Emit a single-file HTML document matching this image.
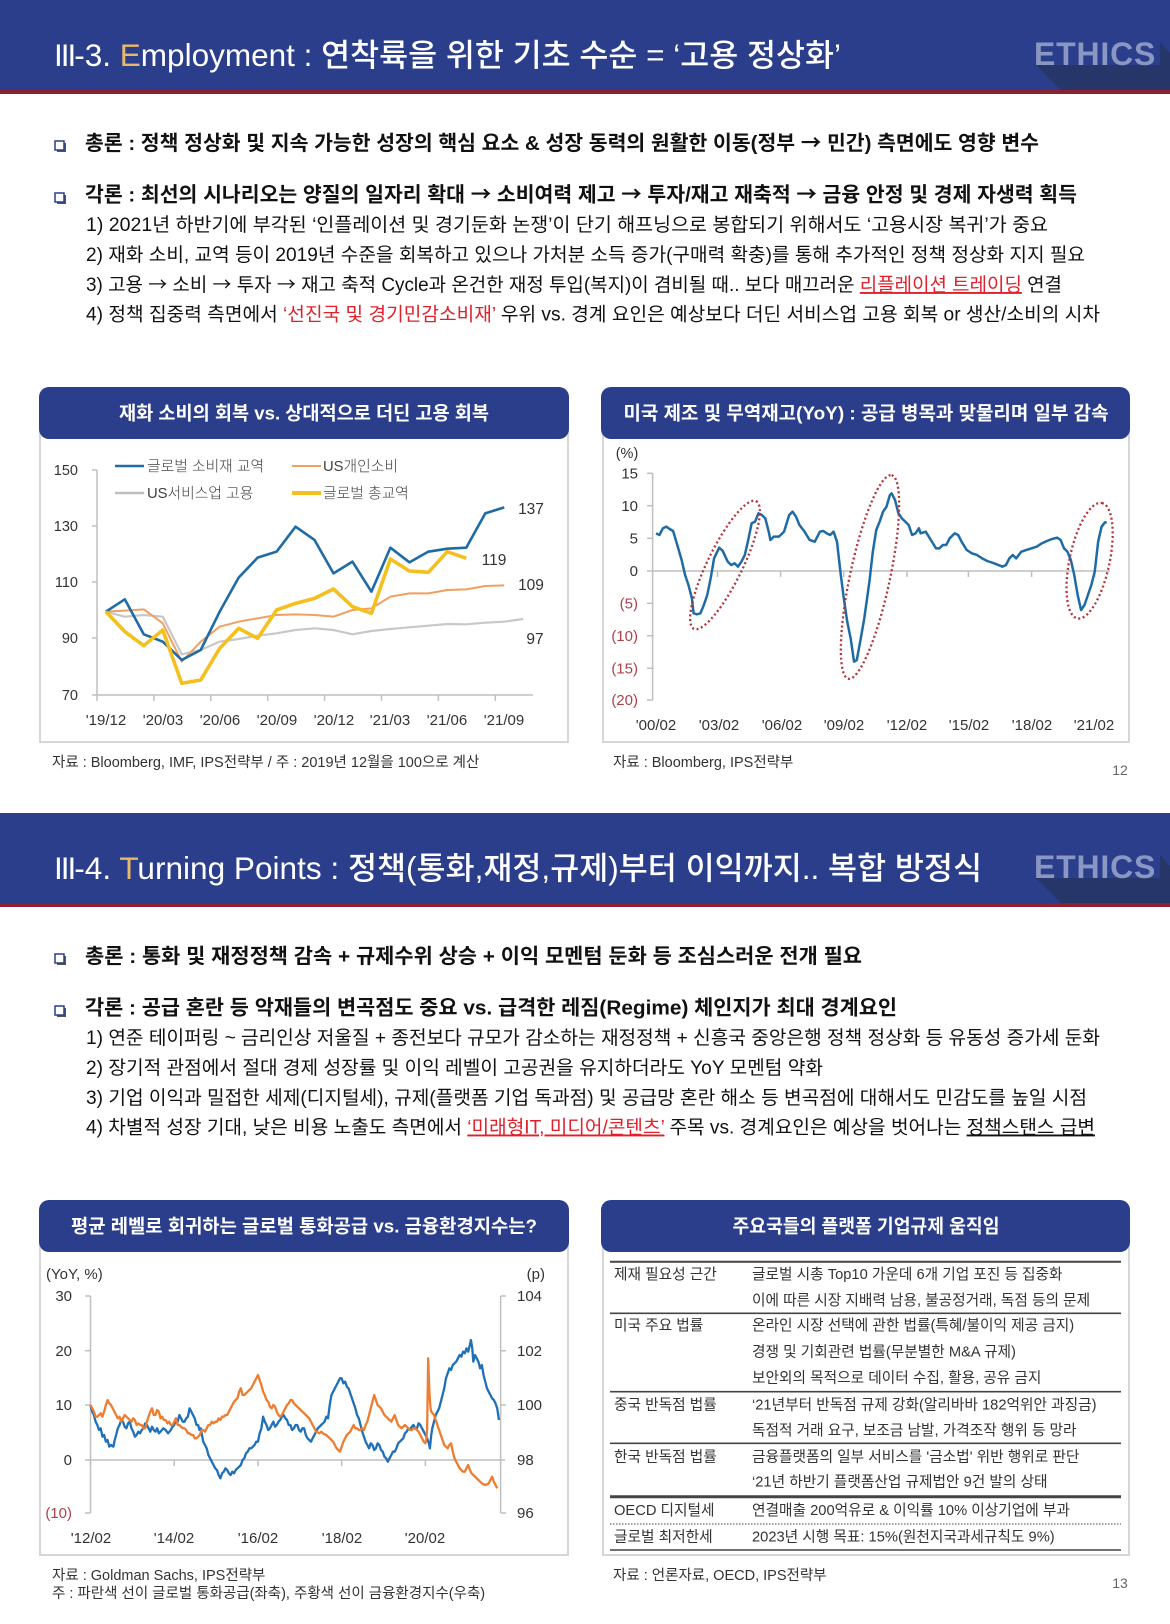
<!DOCTYPE html>
<html><head><meta charset="utf-8"><style>
html,body{margin:0;padding:0;background:#fff;}
svg{display:block;font-family:"Liberation Sans","Noto Sans CJK KR",sans-serif;}
.ar{font-family:"Noto Sans CJK KR","DejaVu Sans",sans-serif;}
</style></head><body>
<svg width="1170" height="1624" viewBox="0 0 1170 1624" xmlns="http://www.w3.org/2000/svg">
<rect width="1170" height="1624" fill="#fff"/>

<!-- ===== SLIDE 1 HEADER ===== -->
<rect x="0" y="0" width="1170" height="90" fill="#2B3E8B"/>
<rect x="0" y="90" width="1170" height="4" fill="#8C2231"/>
<polygon points="1036,65 1061,90 1170,90 1170,53 1160,42 1160,65" fill="#263669"/>
<text x="1034" y="65" font-size="32" font-weight="700" fill="#8A97C3" font-family="Liberation Sans" letter-spacing="0.8">ETHICS</text>
<text x="54" y="66" font-size="31.5" font-weight="500" fill="#fff" textLength="787" lengthAdjust="spacingAndGlyphs"><tspan letter-spacing="-2">III</tspan>-3. <tspan fill="#E8B96A">E</tspan>mployment : 연착륙을 위한 기초 수순 = ‘고용 정상화’</text>

<rect x="57" y="143" width="9" height="9" fill="#555"/><rect x="55" y="141" width="9" height="9" fill="#fff" stroke="#2B3E8B" stroke-width="1.5"/>
<rect x="57" y="195" width="9" height="9" fill="#555"/><rect x="55" y="193" width="9" height="9" fill="#fff" stroke="#2B3E8B" stroke-width="1.5"/>
<g fill="#111">
<text x="85" y="150" font-size="20.5" font-weight="700" textLength="954" lengthAdjust="spacingAndGlyphs">총론 : 정책 정상화 및 지속 가능한 성장의 핵심 요소 &amp; 성장 동력의 원활한 이동(정부 <tspan class="ar">→</tspan> 민간) 측면에도 영향 변수</text>
<text x="85" y="201.5" font-size="20.5" font-weight="700" textLength="992" lengthAdjust="spacingAndGlyphs">각론 : 최선의 시나리오는 양질의 일자리 확대 <tspan class="ar">→</tspan> 소비여력 제고 <tspan class="ar">→</tspan> 투자/재고 재축적 <tspan class="ar">→</tspan> 금융 안정 및 경제 자생력 획득</text>
<text x="86" y="231" font-size="19" textLength="962" lengthAdjust="spacingAndGlyphs">1) 2021년 하반기에 부각된 ‘인플레이션 및 경기둔화 논쟁’이 단기 해프닝으로 봉합되기 위해서도 ‘고용시장 복귀’가 중요</text>
<text x="86" y="261" font-size="19" textLength="999" lengthAdjust="spacingAndGlyphs">2) 재화 소비, 교역 등이 2019년 수준을 회복하고 있으나 가처분 소득 증가(구매력 확충)를 통해 추가적인 정책 정상화 지지 필요</text>
<text x="86" y="291" font-size="19" textLength="976" lengthAdjust="spacingAndGlyphs">3) 고용 <tspan class="ar">→</tspan> 소비 <tspan class="ar">→</tspan> 투자 <tspan class="ar">→</tspan> 재고 축적 Cycle과 온건한 재정 투입(복지)이 겸비될 때.. 보다 매끄러운 <tspan fill="#E0202A" style="text-decoration:underline">리플레이션 트레이딩</tspan> 연결</text>
<text x="86" y="320.5" font-size="19" textLength="1014" lengthAdjust="spacingAndGlyphs">4) 정책 집중력 측면에서 <tspan fill="#E0202A">‘선진국 및 경기민감소비재’</tspan> 우위 vs. 경계 요인은 예상보다 더딘 서비스업 고용 회복 or 생산/소비의 시차</text>
</g>

<!-- ===== CHART 1 ===== -->
<rect x="40" y="400" width="528" height="342" fill="#fff" stroke="#D6D6D6" stroke-width="2"/>
<rect x="39" y="387" width="530" height="52" rx="10" fill="#2B3E8B"/>
<text x="304" y="419.5" font-size="18.8" font-weight="700" fill="#fff" text-anchor="middle" textLength="370" lengthAdjust="spacingAndGlyphs">재화 소비의 회복 vs. 상대적으로 더딘 고용 회복</text>
<g stroke="#BFBFBF" stroke-width="1.5" fill="none">
<line x1="97" y1="470" x2="97" y2="695"/>
<line x1="97" y1="695" x2="533" y2="695"/>
<line x1="92" y1="470" x2="97" y2="470"/><line x1="92" y1="526" x2="97" y2="526"/><line x1="92" y1="582" x2="97" y2="582"/><line x1="92" y1="638" x2="97" y2="638"/><line x1="92" y1="695" x2="97" y2="695"/>
<line x1="97" y1="695" x2="97" y2="701"/><line x1="153.9" y1="695" x2="153.9" y2="701"/><line x1="210.8" y1="695" x2="210.8" y2="701"/><line x1="267.7" y1="695" x2="267.7" y2="701"/><line x1="324.6" y1="695" x2="324.6" y2="701"/><line x1="381.5" y1="695" x2="381.5" y2="701"/><line x1="438.4" y1="695" x2="438.4" y2="701"/><line x1="495.3" y1="695" x2="495.3" y2="701"/>
</g>
<g font-size="14.5" fill="#333" text-anchor="end">
<text x="78" y="475">150</text><text x="78" y="531">130</text><text x="78" y="587">110</text><text x="78" y="643">90</text><text x="78" y="700">70</text>
</g>
<g font-size="15" fill="#333" text-anchor="middle">
<text x="106" y="725">'19/12</text><text x="163" y="725">'20/03</text><text x="220" y="725">'20/06</text><text x="277" y="725">'20/09</text><text x="334" y="725">'20/12</text><text x="390" y="725">'21/03</text><text x="447" y="725">'21/06</text><text x="504" y="725">'21/09</text>
</g>
<line x1="115" y1="466" x2="144" y2="466" stroke="#1F6BA5" stroke-width="2.5"/>
<line x1="292" y1="466" x2="321" y2="466" stroke="#F0A060" stroke-width="2"/>
<line x1="115" y1="493" x2="144" y2="493" stroke="#BFBFBF" stroke-width="2.5"/>
<line x1="292" y1="493" x2="321" y2="493" stroke="#F5C01E" stroke-width="4"/>
<g font-size="14.8" fill="#404040" font-weight="300">
<text x="147" y="471">글로벌 소비재 교역</text><text x="323" y="471">US개인소비</text>
<text x="147" y="498">US서비스업 고용</text><text x="323" y="498">글로벌 총교역</text>
</g>
<g transform="matrix(0.3418,0,0,0.33333,37.5,385)" fill="none" stroke-linejoin="round">
<polyline vector-effect="non-scaling-stroke" stroke="#C8C8C8" stroke-width="2.2" points="200,680 255.5,695 311,690 366.5,695 422,808 477.5,795 533,770 588.5,762 644,752 699.5,745 755,735 810.5,730 866,735 921.5,748 977,738 1032.5,732 1088,727 1143.5,722 1199,717 1254.5,718 1310,713 1365.5,710 1421,702"/>
<polyline vector-effect="non-scaling-stroke" stroke="#F0A060" stroke-width="2" points="200,680 255.5,677 311,673 366.5,715 422,830 477.5,770 533,725 588.5,710 644,700 699.5,690 755,688 810.5,690 866,695 921.5,675 977,670 1032.5,635 1088,625 1143.5,625 1199,615 1254.5,613 1310,603 1365.5,601"/>
<polyline vector-effect="non-scaling-stroke" stroke="#1F6BA5" stroke-width="2.6" points="200,680 255.5,643 311,748 366.5,770 422,825 477.5,795 533,680 588.5,578 644,518 699.5,500 755,425 810.5,465 866,565 921.5,530 977,620 1032.5,488 1088,532 1143.5,500 1199,491 1254.5,488 1310,385 1365.5,367"/>
<polyline vector-effect="non-scaling-stroke" stroke="#F5C01E" stroke-width="3.6" points="200,680 255.5,740 311,782 366.5,735 422,895 477.5,885 533,790 588.5,730 644,760 699.5,675 755,655 810.5,640 866,612 921.5,665 977,685 1032.5,522 1088,558 1143.5,562 1199,500 1254.5,520"/>
</g>
<g font-size="15.5" fill="#333" text-anchor="middle">
<text x="531" y="514">137</text><text x="494" y="565">119</text><text x="531" y="590">109</text><text x="535" y="644">97</text>
</g>
<text x="52" y="767" font-size="14.5" fill="#333">자료 : Bloomberg, IMF, IPS전략부 / 주 : 2019년 12월을 100으로 계산</text>

<!-- ===== CHART 2 ===== -->
<rect x="603" y="400" width="526" height="342" fill="#fff" stroke="#D6D6D6" stroke-width="2"/>
<rect x="601" y="387" width="529" height="52" rx="10" fill="#2B3E8B"/>
<text x="866" y="419.5" font-size="18.8" font-weight="700" fill="#fff" text-anchor="middle" textLength="485" lengthAdjust="spacingAndGlyphs">미국 제조 및 무역재고(YoY) : 공급 병목과 맞물리며 일부 감속</text>
<text x="627" y="458" font-size="14.5" fill="#333" text-anchor="middle">(%)</text>
<g stroke="#BFBFBF" stroke-width="1.5" fill="none">
<line x1="652.6" y1="473" x2="652.6" y2="700"/>
<line x1="652.6" y1="571" x2="1110" y2="571"/>
<line x1="647" y1="473.3" x2="652.6" y2="473.3"/><line x1="647" y1="505.7" x2="652.6" y2="505.7"/><line x1="647" y1="538.3" x2="652.6" y2="538.3"/><line x1="647" y1="571" x2="652.6" y2="571"/><line x1="647" y1="603.3" x2="652.6" y2="603.3"/><line x1="647" y1="635.7" x2="652.6" y2="635.7"/><line x1="647" y1="668.3" x2="652.6" y2="668.3"/><line x1="647" y1="700" x2="652.6" y2="700"/>
<line x1="717.5" y1="571" x2="717.5" y2="577"/><line x1="780.6" y1="571" x2="780.6" y2="577"/><line x1="843.8" y1="571" x2="843.8" y2="577"/><line x1="907" y1="571" x2="907" y2="577"/><line x1="968.4" y1="571" x2="968.4" y2="577"/><line x1="1031.6" y1="571" x2="1031.6" y2="577"/><line x1="1094.7" y1="571" x2="1094.7" y2="577"/>
</g>
<g font-size="15" text-anchor="end">
<text x="638" y="478.5" fill="#333">15</text><text x="638" y="511" fill="#333">10</text><text x="638" y="543.5" fill="#333">5</text><text x="638" y="576" fill="#333">0</text>
<text x="638" y="608.5" fill="#B0404A">(5)</text><text x="638" y="641" fill="#B0404A">(10)</text><text x="638" y="673.5" fill="#B0404A">(15)</text><text x="638" y="705" fill="#B0404A">(20)</text>
</g>
<g font-size="15" fill="#333" text-anchor="middle">
<text x="656" y="730">'00/02</text><text x="719" y="730">'03/02</text><text x="782" y="730">'06/02</text><text x="844" y="730">'09/02</text><text x="907" y="730">'12/02</text><text x="969" y="730">'15/02</text><text x="1032" y="730">'18/02</text><text x="1094" y="730">'21/02</text>
</g>
<g transform="matrix(0.3414,0,0,0.33333,598,385)" fill="none">
<polyline vector-effect="non-scaling-stroke" stroke="#1F6BA5" stroke-width="2.5" stroke-linejoin="round" points="170,445 180,450 190,430 200,425 210,432 220,438 225,455 235,490 245,525 255,570 265,600 275,640 280,685 290,688 300,685 310,660 320,630 330,580 340,520 355,488 365,497 380,530 390,540 400,535 410,545 420,530 430,510 440,465 450,415 460,410 470,385 480,390 490,400 500,440 505,465 515,455 530,455 545,440 560,390 570,380 580,395 590,420 605,440 620,465 635,470 650,440 660,438 670,445 680,450 690,440 700,470 710,560 720,640 730,710 740,760 750,830 758,825 768,770 780,700 795,590 805,500 815,435 825,410 835,380 845,365 855,330 860,325 870,345 880,385 890,400 900,410 910,420 920,450 930,445 940,430 945,445 960,440 975,465 990,490 1000,490 1010,480 1020,480 1030,460 1045,445 1055,450 1065,470 1080,495 1095,505 1110,510 1125,520 1140,528 1160,535 1185,545 1195,540 1205,520 1215,510 1225,520 1240,500 1255,495 1270,490 1285,485 1300,475 1315,468 1330,462 1345,458 1355,465 1365,490 1375,500 1385,525 1395,570 1405,630 1415,675 1425,660 1435,630 1445,600 1455,560 1465,470 1475,425 1485,412 1490,412"/>
</g>
<g fill="none" stroke="#B5323A" stroke-width="2.3" stroke-dasharray="2 2.6">
<ellipse cx="725" cy="565" rx="71" ry="17.5" transform="rotate(-64 725 565)"/>
<ellipse cx="870" cy="577" rx="104" ry="20" transform="rotate(-78 870 577)"/>
<ellipse cx="1089.6" cy="560.7" rx="59" ry="20" transform="rotate(-78 1089.6 560.7)"/>
</g>
<text x="613" y="767" font-size="14.5" fill="#333">자료 : Bloomberg, IPS전략부</text>
<text x="1120" y="775" font-size="14" fill="#666" text-anchor="middle">12</text>

<!-- ===== SLIDE 2 HEADER ===== -->
<rect x="0" y="813" width="1170" height="90" fill="#2B3E8B"/>
<rect x="0" y="903" width="1170" height="4" fill="#8C2231"/>
<polygon points="1036,878 1061,903 1170,903 1170,866 1160,855 1160,878" fill="#263669"/>
<text x="1034" y="878" font-size="32" font-weight="700" fill="#8A97C3" font-family="Liberation Sans" letter-spacing="0.8">ETHICS</text>
<text x="54" y="879" font-size="31.5" font-weight="500" fill="#fff" textLength="928" lengthAdjust="spacingAndGlyphs"><tspan letter-spacing="-2">III</tspan>-4. <tspan fill="#E8B96A">T</tspan>urning Points : 정책(통화,재정,규제)부터 이익까지.. 복합 방정식</text>

<rect x="57" y="956" width="9" height="9" fill="#555"/><rect x="55" y="954" width="9" height="9" fill="#fff" stroke="#2B3E8B" stroke-width="1.5"/>
<rect x="57" y="1008" width="9" height="9" fill="#555"/><rect x="55" y="1006" width="9" height="9" fill="#fff" stroke="#2B3E8B" stroke-width="1.5"/>
<g fill="#111">
<text x="85" y="963" font-size="20.5" font-weight="700" textLength="777" lengthAdjust="spacingAndGlyphs">총론 : 통화 및 재정정책 감속 + 규제수위 상승 + 이익 모멘텀 둔화 등 조심스러운 전개 필요</text>
<text x="85" y="1014.5" font-size="20.5" font-weight="700" textLength="812" lengthAdjust="spacingAndGlyphs">각론 : 공급 혼란 등 악재들의 변곡점도 중요 vs. 급격한 레짐(Regime) 체인지가 최대 경계요인</text>
<text x="86" y="1044" font-size="19" textLength="1014" lengthAdjust="spacingAndGlyphs">1) 연준 테이퍼링 ~ 금리인상 저울질 + 종전보다 규모가 감소하는 재정정책 + 신흥국 중앙은행 정책 정상화 등 유동성 증가세 둔화</text>
<text x="86" y="1074" font-size="19" textLength="737" lengthAdjust="spacingAndGlyphs">2) 장기적 관점에서 절대 경제 성장률 및 이익 레벨이 고공권을 유지하더라도 YoY 모멘텀 약화</text>
<text x="86" y="1104" font-size="19" textLength="1001" lengthAdjust="spacingAndGlyphs">3) 기업 이익과 밀접한 세제(디지털세), 규제(플랫폼 기업 독과점) 및 공급망 혼란 해소 등 변곡점에 대해서도 민감도를 높일 시점</text>
<text x="86" y="1133.5" font-size="19" textLength="1009" lengthAdjust="spacingAndGlyphs">4) 차별적 성장 기대, 낮은 비용 노출도 측면에서 <tspan fill="#E0202A" style="text-decoration:underline">‘미래형IT, 미디어/콘텐츠’</tspan> 주목 vs. 경계요인은 예상을 벗어나는 <tspan style="text-decoration:underline">정책스탠스 급변</tspan></text>
</g>

<!-- ===== CHART 3 ===== -->
<rect x="40" y="1213" width="528" height="342" fill="#fff" stroke="#D6D6D6" stroke-width="2"/>
<rect x="39" y="1200" width="530" height="52" rx="10" fill="#2B3E8B"/>
<text x="304" y="1232.5" font-size="18.8" font-weight="700" fill="#fff" text-anchor="middle" textLength="466" lengthAdjust="spacingAndGlyphs">평균 레벨로 회귀하는 글로벌 통화공급 vs. 금융환경지수는?</text>
<text x="46" y="1279" font-size="15" fill="#333">(YoY, %)</text>
<text x="545" y="1279" font-size="15" fill="#333" text-anchor="end">(p)</text>
<g stroke="#BFBFBF" stroke-width="1.5" fill="none">
<line x1="90.5" y1="1296" x2="90.5" y2="1513"/>
<line x1="500.6" y1="1296" x2="500.6" y2="1513"/>
<line x1="85" y1="1460" x2="505" y2="1460"/>
<line x1="85" y1="1296" x2="90.5" y2="1296"/><line x1="85" y1="1350.7" x2="90.5" y2="1350.7"/><line x1="85" y1="1405" x2="90.5" y2="1405"/><line x1="85" y1="1513" x2="90.5" y2="1513"/>
<line x1="500.6" y1="1296" x2="506" y2="1296"/><line x1="500.6" y1="1350.7" x2="506" y2="1350.7"/><line x1="500.6" y1="1405" x2="506" y2="1405"/><line x1="500.6" y1="1513" x2="506" y2="1513"/>
<line x1="90.5" y1="1460" x2="90.5" y2="1466"/><line x1="174.2" y1="1460" x2="174.2" y2="1466"/><line x1="258" y1="1460" x2="258" y2="1466"/><line x1="341.7" y1="1460" x2="341.7" y2="1466"/><line x1="425.4" y1="1460" x2="425.4" y2="1466"/>
</g>
<g font-size="15" text-anchor="end">
<text x="72" y="1301" fill="#333">30</text><text x="72" y="1356" fill="#333">20</text><text x="72" y="1410" fill="#333">10</text><text x="72" y="1465" fill="#333">0</text><text x="72" y="1518" fill="#B0404A">(10)</text>
</g>
<g font-size="15" fill="#333">
<text x="517" y="1301">104</text><text x="517" y="1356">102</text><text x="517" y="1410">100</text><text x="517" y="1465">98</text><text x="517" y="1518">96</text>
</g>
<g font-size="15" fill="#333" text-anchor="middle">
<text x="91" y="1543">'12/02</text><text x="174" y="1543">'14/02</text><text x="258" y="1543">'16/02</text><text x="342" y="1543">'18/02</text><text x="425" y="1543">'20/02</text>
</g>
<g transform="matrix(0.3418,0,0,0.33333,37.5,1195)" fill="none" stroke-linejoin="round">
<polyline vector-effect="non-scaling-stroke" stroke="#1F70B8" stroke-width="2.3" points="155,630 160,650 165,660 170,680 175,690 180,705 185,700 190,725 195,720 200,740 205,735 210,755 215,750 222,755 226,735 230,720 235,700 240,690 245,675 250,680 255,695 260,700 265,685 270,680 275,700 280,710 285,725 290,720 295,710 300,715 305,705 310,700 315,685 320,690 325,700 330,710 335,695 340,705 345,710 350,700 355,715 360,710 368,700 375,705 382,715 390,705 395,695 400,690 405,675 410,680 415,660 420,670 425,680 430,680 435,670 440,665 445,640 450,650 455,660 460,670 465,690 470,690 474,705 478,700 482,725 485,740 490,750 495,760 500,780 505,790 510,800 515,810 520,820 525,825 530,840 535,850 540,835 545,830 550,820 555,825 560,835 565,840 570,830 575,835 580,825 585,820 590,815 595,810 600,795 605,790 610,775 615,770 620,760 625,760 630,755 635,750 640,740 645,740 650,715 655,700 660,665 665,680 670,690 675,705 680,700 685,690 690,680 695,695 700,690 705,680 710,675 715,665 720,660 725,670 730,675 735,690 740,690 745,705 750,700 755,690 760,690 765,705 770,710 775,700 780,700 785,720 790,730 795,735 800,740 805,730 810,720 815,710 820,700 825,695 830,690 835,685 840,680 845,665 850,670 855,630 860,600 865,590 870,580 875,570 880,560 885,550 890,550 895,565 900,560 905,575 910,580 915,595 920,610 925,625 930,640 935,660 940,670 945,690 950,710 955,725 960,740 965,750 970,760 975,745 980,750 985,765 990,760 995,745 1000,750 1005,765 1010,770 1015,785 1020,790 1025,800 1030,790 1035,780 1040,770 1045,770 1050,760 1055,745 1060,740 1065,735 1070,730 1075,715 1080,710 1085,700 1090,705 1095,695 1100,690 1105,700 1110,700 1115,685 1120,690 1125,700 1130,710 1135,720 1140,730 1145,745 1148,760 1152,720 1155,700 1160,680 1165,660 1170,650 1175,640 1180,620 1185,600 1190,580 1195,550 1200,535 1205,520 1210,525 1215,510 1220,505 1225,500 1230,490 1235,480 1240,485 1245,470 1250,475 1255,460 1260,470 1265,450 1268,435 1272,460 1275,500 1280,480 1285,490 1290,500 1295,520 1300,510 1305,540 1310,560 1315,580 1320,590 1325,600 1330,610 1335,615 1340,625 1345,640 1350,675"/>
<polyline vector-effect="non-scaling-stroke" stroke="#ED7D31" stroke-width="2.3" points="155,630 160,640 165,650 170,665 175,665 180,660 185,655 190,665 195,650 200,630 205,615 210,625 215,630 220,640 225,650 230,660 235,670 240,665 245,680 250,670 255,660 260,665 265,670 270,675 275,680 280,670 285,675 290,690 295,685 300,690 305,690 310,700 315,700 320,680 325,665 330,650 335,640 340,660 345,660 350,645 355,650 360,670 365,665 370,675 375,675 380,685 385,680 390,690 395,690 400,680 405,670 410,690 415,690 420,695 425,700 430,700 435,705 440,715 445,715 450,720 455,720 460,730 465,730 470,725 475,720 480,705 485,705 490,710 495,700 500,690 505,690 510,680 515,685 520,680 525,680 530,670 535,675 540,665 545,665 550,660 555,660 560,650 565,640 570,630 575,620 580,615 585,610 590,590 595,580 600,600 605,600 610,595 615,590 620,585 625,580 630,570 635,560 640,550 645,540 650,555 655,570 660,590 665,600 670,615 675,620 680,635 685,640 690,630 695,635 700,650 705,660 710,665 715,660 720,650 725,640 730,630 735,625 740,615 745,615 750,625 755,630 760,635 765,640 770,645 775,650 780,655 785,660 790,665 795,670 800,680 805,690 810,700 815,710 820,712 825,715 830,710 835,715 840,718 845,720 850,725 855,730 860,735 865,740 870,750 875,760 880,765 885,770 890,755 895,740 900,730 905,720 910,715 915,710 920,700 925,690 930,700 935,700 940,705 945,705 950,700 955,705 960,690 965,680 970,660 975,640 980,620 985,600 990,615 995,630 1000,635 1005,640 1010,650 1015,660 1020,665 1025,670 1030,675 1035,680 1040,670 1045,660 1050,675 1055,690 1060,695 1065,700 1070,695 1075,690 1080,695 1085,700 1090,705 1095,705 1100,700 1105,700 1110,705 1115,710 1120,720 1125,730 1130,740 1135,745 1138,730 1140,700 1142,560 1143,490 1145,550 1147,600 1150,640 1152,650 1156,655 1160,660 1165,675 1170,690 1175,705 1180,720 1185,735 1190,750 1195,755 1200,760 1205,750 1210,745 1215,770 1220,790 1225,800 1230,810 1235,820 1240,825 1245,830 1250,830 1255,820 1260,810 1265,825 1270,835 1275,840 1280,845 1285,850 1290,855 1295,860 1300,865 1305,868 1310,870 1315,868 1320,865 1325,855 1330,845 1335,860 1340,870 1345,880"/>
</g>
<text x="52" y="1580" font-size="14.5" fill="#333">자료 : Goldman Sachs, IPS전략부</text>
<text x="52" y="1598" font-size="14.5" fill="#333">주 : 파란색 선이 글로벌 통화공급(좌축), 주황색 선이 금융환경지수(우축)</text>

<!-- ===== TABLE ===== -->
<rect x="603" y="1213" width="526" height="342" fill="#fff" stroke="#D6D6D6" stroke-width="2"/>
<rect x="601" y="1200" width="529" height="52" rx="10" fill="#2B3E8B"/>
<text x="866" y="1232.5" font-size="18.8" font-weight="700" fill="#fff" text-anchor="middle" textLength="267" lengthAdjust="spacingAndGlyphs">주요국들의 플랫폼 기업규제 움직임</text>
<g stroke="#444" fill="none">
<line x1="610" y1="1261.7" x2="1121" y2="1261.7" stroke-width="2"/>
<line x1="610" y1="1313.3" x2="1121" y2="1313.3" stroke-width="1.6"/>
<line x1="610" y1="1391.7" x2="1121" y2="1391.7" stroke-width="1.6"/>
<line x1="610" y1="1443.3" x2="1121" y2="1443.3" stroke-width="1.6"/>
<line x1="610" y1="1496.7" x2="1121" y2="1496.7" stroke-width="3"/>
<line x1="610" y1="1524" x2="1121" y2="1524" stroke-width="1" stroke-dasharray="1.5 1.5"/>
<line x1="610" y1="1550" x2="1121" y2="1550" stroke-width="1.6"/>
</g>
<g font-size="14.7" fill="#333">
<text x="614" y="1279">제재 필요성 근간</text>
<text x="752" y="1279">글로벌 시총 Top10 가운데 6개 기업 포진 등 집중화</text>
<text x="752" y="1305">이에 따른 시장 지배력 남용, 불공정거래, 독점 등의 문제</text>
<text x="614" y="1330">미국 주요 법률</text>
<text x="752" y="1330">온라인 시장 선택에 관한 법률(특혜/불이익 제공 금지)</text>
<text x="752" y="1356.7">경쟁 및 기회관련 법률(무분별한 M&amp;A 규제)</text>
<text x="752" y="1382.7">보안외의 목적으로 데이터 수집, 활용, 공유 금지</text>
<text x="614" y="1409.3">중국 반독점 법률</text>
<text x="752" y="1409.3">‘21년부터 반독점 규제 강화(알리바바 182억위안 과징금)</text>
<text x="752" y="1435">독점적 거래 요구, 보조금 남발, 가격조작 행위 등 망라</text>
<text x="614" y="1461.7">한국 반독점 법률</text>
<text x="752" y="1461.7">금융플랫폼의 일부 서비스를 '금소법' 위반 행위로 판단</text>
<text x="752" y="1486.7">‘21년 하반기 플랫폼산업 규제법안 9건 발의 상태</text>
<text x="614" y="1515">OECD 디지털세</text>
<text x="752" y="1515">연결매출 200억유로 &amp; 이익률 10% 이상기업에 부과</text>
<text x="614" y="1541.7">글로벌 최저한세</text>
<text x="752" y="1541.7">2023년 시행 목표: 15%(원천지국과세규칙도 9%)</text>
</g>
<text x="613" y="1580" font-size="14.5" fill="#333">자료 : 언론자료, OECD, IPS전략부</text>
<text x="1120" y="1588" font-size="14" fill="#666" text-anchor="middle">13</text>
</svg>
</body></html>
